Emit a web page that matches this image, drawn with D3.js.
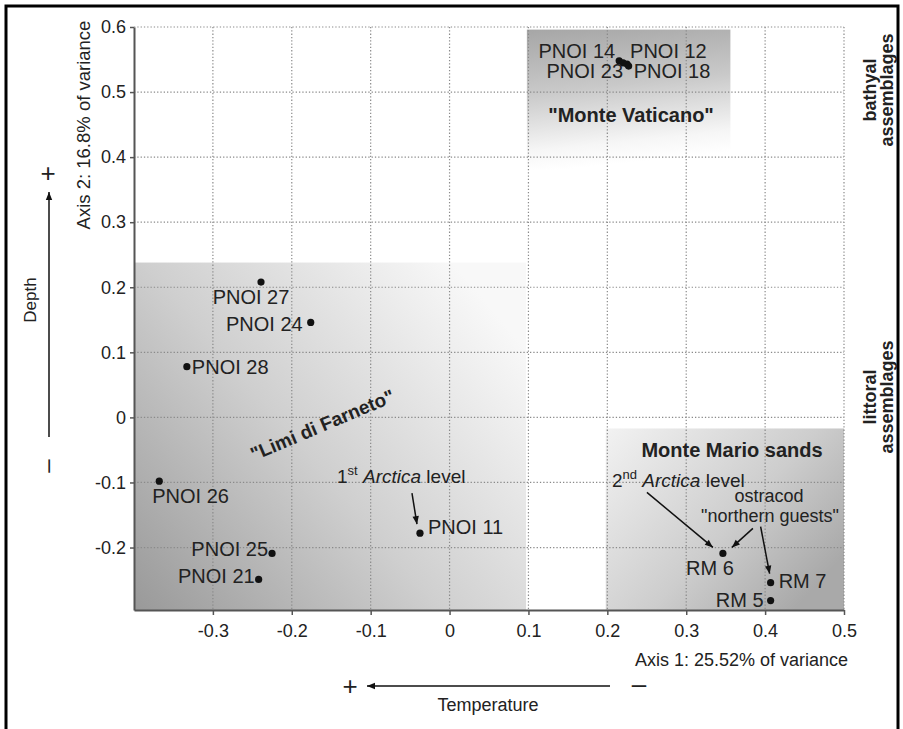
<!DOCTYPE html>
<html>
<head>
<meta charset="utf-8">
<script src="https://cdn.jsdelivr.net/npm/d3@7"></script>
<style>
body { margin: 0; background: #fff; }
text { font-family: "Liberation Sans", Arial, sans-serif; fill: #222; }
</style>
</head>
<body>
<svg id="chart" width="903" height="729"></svg>
<script>
// sample scores on axis 1 and axis 2
var samples = ["PNOI 14", "PNOI 23", "PNOI 12", "PNOI 18", "PNOI 27", "PNOI 24", "PNOI 28",
               "PNOI 26", "PNOI 11", "PNOI 25", "PNOI 21", "RM 6", "RM 7", "RM 5"];
var axis1 = [0.215, 0.220, 0.225, 0.227, -0.239, -0.176, -0.333,
             -0.368, -0.0375, -0.225, -0.242, 0.3465, 0.407, 0.407];
var axis2 = [0.548, 0.545, 0.543, 0.540, 0.208, 0.146, 0.078,
             -0.098, -0.178, -0.209, -0.249, -0.209, -0.254, -0.2815];

var xTicks = [-0.3, -0.2, -0.1, 0, 0.1, 0.2, 0.3, 0.4, 0.5];
var yTicks = [-0.2, -0.1, 0, 0.1, 0.2, 0.3, 0.4, 0.5, 0.6];

// shaded groups, extent in axis units
var groupNames = ["Monte Vaticano", "Limi di Farneto", "Monte Mario sands"];
var groupX = [[0.098, 0.356], [-0.4, 0.097], [0.198, 0.5]];
var groupY = [[0.38, 0.596], [-0.296, 0.238], [-0.296, -0.017]];

var svg = d3.select("#chart");

var x = d3.scaleLinear().domain([-0.4, 0.5]).range([134, 844]);
var y = d3.scaleLinear().domain([-0.296, 0.6]).range([610, 27]);

var defs = svg.append("defs");

// gradients for the three groups
function grad(id, x1, y1, x2, y2, stops) {
    var g = defs.append("linearGradient").attr("id", id)
        .attr("x1", x1).attr("y1", y1).attr("x2", x2).attr("y2", y2);
    stops.forEach(function (s) {
        g.append("stop").attr("offset", s[0]).attr("stop-color", s[1]);
    });
}
grad("g0", 0, 0, 0.15, 1, [[0, "#a6a6a6"], [0.45, "#c9c9c9"], [0.85, "#f6f6f6"], [1, "#ffffff"]]);
grad("g1", 0, 1, 1, 0.25, [[0, "#999999"], [0.5, "#cfcfcf"], [0.85, "#ececec"], [1, "#f8f8f8"]]);
grad("g2", 0, 0, 1, 0.7, [[0, "#f2f2f2"], [0.6, "#cdcdcd"], [1, "#a9a9a9"]]);

defs.append("marker").attr("id", "arrow")
    .attr("viewBox", "0 -5 10 10").attr("refX", 10).attr("refY", 0)
    .attr("markerWidth", 10).attr("markerHeight", 8)
    .attr("markerUnits", "userSpaceOnUse").attr("orient", "auto")
    .append("path").attr("d", "M0,-4L10,0L0,4Z").attr("fill", "#111");

// outer frame
svg.append("rect").attr("x", 6).attr("y", 6).attr("width", 892).attr("height", 740)
    .attr("fill", "none").attr("stroke", "#000").attr("stroke-width", 3);

// shaded boxes
svg.selectAll(".grp").data(groupNames).enter().append("rect")
    .attr("class", "grp")
    .attr("x", function (d, i) { return x(groupX[i][0]); })
    .attr("width", function (d, i) { return x(groupX[i][1]) - x(groupX[i][0]); })
    .attr("y", function (d, i) { return y(groupY[i][1]); })
    .attr("height", function (d, i) { return y(groupY[i][0]) - y(groupY[i][1]); })
    .attr("fill", function (d, i) { return "url(#g" + i + ")"; });

// dotted grid
var grid = svg.append("g").attr("stroke", "#8a8a8a").attr("stroke-width", 1.2)
    .attr("stroke-dasharray", "1.3,2");
grid.selectAll(".vg").data(xTicks).enter().append("line")
    .attr("x1", x).attr("x2", x).attr("y1", y(0.6)).attr("y2", y(-0.296));
grid.selectAll(".hg").data(yTicks).enter().append("line")
    .attr("y1", y).attr("y2", y).attr("x1", x(-0.4)).attr("x2", x(0.5));

// axes
var fmt = function (d) { return String(d); };
var xAxis = svg.append("g").attr("transform", "translate(0,610)")
    .call(d3.axisBottom(x).tickValues(xTicks).tickSize(5).tickSizeOuter(0).tickPadding(9).tickFormat(fmt));
var yAxis = svg.append("g").attr("transform", "translate(134,0)")
    .call(d3.axisLeft(y).tickValues(yTicks).tickSize(4).tickSizeOuter(0).tickPadding(4).tickFormat(fmt));
[xAxis, yAxis].forEach(function (a) {
    a.select(".domain").attr("stroke", "#555").attr("stroke-width", 2);
    a.selectAll(".tick line").attr("stroke", "#555").attr("stroke-width", 1.5);
    a.selectAll(".tick text").attr("font-size", 18).attr("fill", "#333")
        .attr("font-family", "'Liberation Sans', Arial, sans-serif");
});

// points
svg.selectAll(".pt").data(samples).enter().append("circle")
    .attr("cx", function (d, i) { return x(axis1[i]); })
    .attr("cy", function (d, i) { return y(axis2[i]); })
    .attr("r", 3.6).attr("fill", "#111");

// label placement: anchor, dx, dy
var place = {
    "PNOI 14": ["end", -4, -3], "PNOI 23": ["end", 0, 15], "PNOI 12": ["start", 3, -6],
    "PNOI 18": ["start", 5, 12], "PNOI 27": ["middle", -10, 22], "PNOI 24": ["end", -8, 9],
    "PNOI 28": ["start", 5, 7], "PNOI 26": ["start", -7, 22], "PNOI 11": ["start", 8, 1],
    "PNOI 25": ["end", -4, 3], "PNOI 21": ["end", -4, 4], "RM 6": ["middle", -13, 22],
    "RM 7": ["start", 8, 5], "RM 5": ["end", -7, 6]
};
svg.selectAll(".lbl").data(samples).enter().append("text")
    .attr("x", function (d, i) { return x(axis1[i]) + place[d][1]; })
    .attr("y", function (d, i) { return y(axis2[i]) + place[d][2]; })
    .attr("text-anchor", function (d) { return place[d][0]; })
    .attr("font-size", 20)
    .text(function (d) { return d; });

// group names
svg.append("text").attr("x", 631).attr("y", 122).attr("text-anchor", "middle")
    .attr("font-size", 20).attr("font-weight", "bold").text("\"Monte Vaticano\"");
svg.append("text").attr("transform", "translate(325,431) rotate(-23)").attr("text-anchor", "middle")
    .attr("font-size", 19).attr("font-weight", "bold").text("\"Limi di Farneto\"");
svg.append("text").attr("x", 732).attr("y", 457).attr("text-anchor", "middle")
    .attr("font-size", 20).attr("font-weight", "bold").text("Monte Mario sands");

// Arctica levels
function arctica(tx, ty, num, suf) {
    var t = svg.append("text").attr("x", tx).attr("y", ty).attr("font-size", 19);
    t.append("tspan").text(num);
    t.append("tspan").attr("font-size", 13).attr("dy", -8).text(suf);
    t.append("tspan").attr("dy", 8).text(" ");
    t.append("tspan").attr("font-style", "italic").text("Arctica");
    t.append("tspan").text(" level");
}
arctica(337, 483, "1", "st");
arctica(612, 487, "2", "nd");
svg.append("text").attr("x", 769).attr("y", 502).attr("text-anchor", "middle")
    .attr("font-size", 18).text("ostracod");
svg.append("text").attr("x", 770).attr("y", 522).attr("text-anchor", "middle")
    .attr("font-size", 18).text("\"northern guests\"");

// annotation arrows, offsets from the target sample
function pointer(name, sx, sy, ex, ey) {
    var i = samples.indexOf(name), px = x(axis1[i]), py = y(axis2[i]);
    svg.append("line").attr("x1", px + sx).attr("y1", py + sy)
        .attr("x2", px + ex).attr("y2", py + ey)
        .attr("stroke", "#111").attr("stroke-width", 1.5).attr("marker-end", "url(#arrow)");
}
pointer("PNOI 11", -8, -40, -3, -9);
pointer("RM 6", -76, -61, -10, -6);
pointer("RM 6", 30, -25, 9, -6);
pointer("RM 7", -10, -56, -1, -9);

// side labels
svg.append("text").attr("transform", "translate(90,125) rotate(-90)").attr("text-anchor", "middle")
    .attr("font-size", 18.5).text("Axis 2:  16.8% of variance");
svg.append("text").attr("x", 848).attr("y", 666).attr("text-anchor", "end")
    .attr("font-size", 18).text("Axis 1:  25.52% of variance");

[["bathyal", "assemblages", 90], ["littoral", "assemblages", 397]].forEach(function (s) {
    svg.append("text").attr("transform", "translate(876," + s[2] + ") rotate(-90)")
        .attr("text-anchor", "middle").attr("font-size", 18).attr("font-weight", "bold").text(s[0]);
    svg.append("text").attr("transform", "translate(893," + s[2] + ") rotate(-90)")
        .attr("text-anchor", "middle").attr("font-size", 18).attr("font-weight", "bold").text(s[1]);
});

// depth gradient arrow
svg.append("line").attr("x1", 49).attr("y1", 437).attr("x2", 49).attr("y2", 192)
    .attr("stroke", "#111").attr("stroke-width", 1.5).attr("marker-end", "url(#arrow)");
svg.append("text").attr("x", 48).attr("y", 182).attr("text-anchor", "middle")
    .attr("font-size", 26).text("+");
svg.append("text").attr("transform", "translate(36,300) rotate(-90)").attr("text-anchor", "middle")
    .attr("font-size", 17).text("Depth");
svg.append("text").attr("transform", "translate(55,466) rotate(-90)").attr("text-anchor", "middle")
    .attr("font-size", 24).text("–");

// temperature gradient arrow
svg.append("line").attr("x1", 610).attr("y1", 686).attr("x2", 367).attr("y2", 686)
    .attr("stroke", "#111").attr("stroke-width", 1.5).attr("marker-end", "url(#arrow)");
svg.append("text").attr("x", 350).attr("y", 695).attr("text-anchor", "middle")
    .attr("font-size", 26).text("+");
svg.append("text").attr("x", 639).attr("y", 693).attr("text-anchor", "middle")
    .attr("font-size", 26).text("–");
svg.append("text").attr("x", 488).attr("y", 711).attr("text-anchor", "middle")
    .attr("font-size", 18).text("Temperature");
</script>
</body>
</html>
